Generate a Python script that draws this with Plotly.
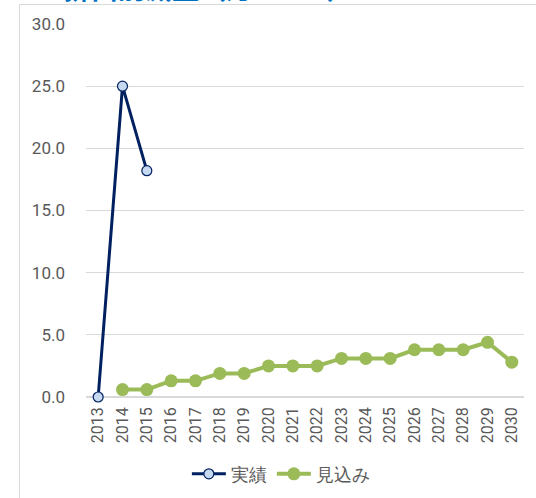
import plotly.graph_objects as go

# Years on the category axis
years = [str(y) for y in range(2013, 2031)]

# Actual results (実績), 2013-2015
actual_years = ["2013", "2014", "2015"]
actual_values = [0.0, 25.0, 18.2]

# Projected values (見込み), 2014-2030
proj_years = [str(y) for y in range(2014, 2031)]
proj_values = [0.6, 0.6, 1.3, 1.3, 1.9, 1.9, 2.5, 2.5, 2.5,
               3.1, 3.1, 3.1, 3.8, 3.8, 3.8, 4.4, 2.8]

y_ticks = [0, 5, 10, 15, 20, 25, 30]
y_tick_labels = ["0.0", "5.0", "10.0", "15.0", "20.0", "25.0", "30.0"]

NAVY = "#002060"
NAVY_FILL = "#C6D9F1"
GREEN = "#9BBB59"
FONT = "Roboto, Liberation Sans, sans-serif"
TEXT_GREY = "#595959"

fig = go.Figure()

fig.add_trace(go.Scatter(
    x=actual_years, y=actual_values, name="実績",
    mode="lines+markers",
    line=dict(color=NAVY, width=3),
    marker=dict(size=10, color=NAVY_FILL, line=dict(color=NAVY, width=1.2)),
    cliponaxis=False,
))

fig.add_trace(go.Scatter(
    x=proj_years, y=proj_values, name="見込み",
    mode="lines+markers",
    line=dict(color=GREEN, width=4),
    marker=dict(size=13, color=GREEN),
    cliponaxis=False,
))

# plot area spans pixels x 86..524, y 24..397
L, R, T, B = 86, 12, 24, 101
PW, PH = 536 - L - R, 498 - T - B

def px_x(px):
    return (px - L) / PW

def px_y(py):
    return (498 - B - py) / PH

fig.update_layout(
    width=536, height=498,
    margin=dict(l=L, r=R, t=T, b=B),
    paper_bgcolor="white", plot_bgcolor="white",
    font=dict(family=FONT, color=TEXT_GREY, size=16),
    showlegend=True,
    legend=dict(
        orientation="h", xref="container", yref="container",
        x=0.524, xanchor="center", y=0.048, yanchor="middle",
        font=dict(size=18, color=TEXT_GREY), itemwidth=34,
        traceorder="normal",
    ),
    xaxis=dict(
        type="category", categoryorder="array", categoryarray=years,
        range=[-0.5, len(years) - 0.5],
        tickangle=-90, showgrid=False, showline=False, ticks="",
        tickfont=dict(size=16, color=TEXT_GREY),
        ticklabelstandoff=6,
    ),
    yaxis=dict(
        range=[0, 30], tickvals=y_ticks, ticktext=y_tick_labels,
        showgrid=True, gridcolor="#D9D9D9", gridwidth=1,
        zeroline=True, zerolinecolor="#D9D9D9", zerolinewidth=2,
        showline=False, ticks="",
        tickfont=dict(size=17, color=TEXT_GREY),
        ticklabelstandoff=20,
    ),
    shapes=[dict(
        type="rect", xref="paper", yref="paper",
        x0=px_x(19.5), x1=px_x(620), y0=px_y(560), y1=px_y(4.5),
        line=dict(color="#D9D9D9", width=1), fillcolor="rgba(0,0,0,0)",
        layer="above",
    )],
    annotations=[dict(
        text="<b>排出削減量（万t-CO2）</b>", xref="paper", yref="paper",
        x=px_x(209), y=px_y(8.5), xanchor="center", yanchor="bottom",
        showarrow=False,
        font=dict(family="Noto Sans CJK JP", size=27, color="#0070C0"),
    )],
)

fig.write_html("out.html")
